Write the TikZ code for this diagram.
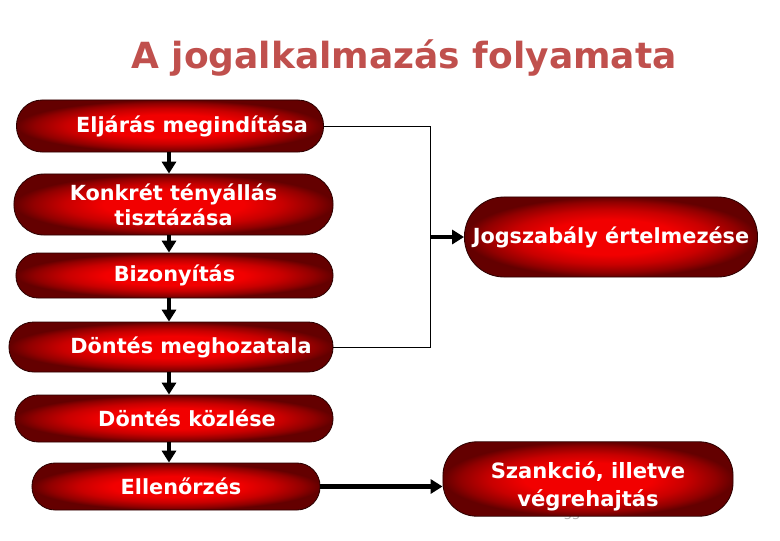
\documentclass[tikz,border=0pt]{standalone}
\usepackage{fontspec}
\setmainfont{DejaVu Sans}
\usepackage{tikz}
\usetikzlibrary{arrows.meta, calc}
\definecolor{titlered}{RGB}{192,80,77}
\definecolor{pillin}{RGB}{242,0,0}
\definecolor{pillmid}{RGB}{200,0,0}
\definecolor{pilldark}{RGB}{145,0,0}
\definecolor{pillout}{RGB}{100,0,0}
\definecolor{pilledge}{RGB}{45,0,0}
\pgfdeclareradialshading{pillglow}{\pgfpoint{0bp}{0bp}}{color(0bp)=(pillin);
  color(11bp)=(pillin); color(17bp)=(pillmid); color(22bp)=(pilldark);
  color(25bp)=(pillout); color(50bp)=(pillout)}
\tikzset{>={Triangle[width=10pt,length=8.5pt]}}

\begin{document}
\begin{tikzpicture}[x=0.025cm, y=-0.025cm,
  pill/.style={rectangle, draw=pilledge, line width=0.6pt, shading=pillglow,
    text=white, align=center,
    inner xsep=1pt, font=\bfseries\fontsize{14.8}{17.8}\selectfont},
  flow/.style={->, line width=2.9pt},
  link/.style={line width=0.7pt}]
  \useasboundingbox (0,0) rectangle (780,540);

  %title
  \node[text=titlered, anchor=base, font=\bfseries\fontsize{25.6}{30}\selectfont]
    (title) at (404,68) {A jogalkalmazás folyamata};

  %page number, mostly hidden
  \node[text=gray!60, font=\fontsize{9}{10}\selectfont] (pagenum) at (572,515) {33};

  %left column
  \node[pill, minimum width=7.675cm, minimum height=1.3cm, rounded corners=0.64cm]
    (elj) at (170,126) {\hspace*{1.1cm}Eljárás megindítása};
  \node[pill, minimum width=7.975cm, minimum height=1.525cm, rounded corners=0.75cm]
    (konk) at (173.5,204.5) {Konkrét tényállás\\tisztázása};
  \node[pill, minimum width=7.925cm, minimum height=1.125cm, rounded corners=0.55cm]
    (biz) at (174.5,275.5) {Bizonyítás};
  \node[pill, minimum width=8.1cm, minimum height=1.25cm, rounded corners=0.62cm]
    (dontm) at (171,347) {\hspace*{1.0cm}Döntés meghozatala};
  \node[pill, minimum width=7.95cm, minimum height=1.175cm, rounded corners=0.58cm]
    (dontk) at (174,418.5) {\hspace*{0.65cm}Döntés közlése};
  \node[pill, minimum width=7.2cm, minimum height=1.175cm, rounded corners=0.58cm]
    (ell) at (176,486.5) {\hspace*{0.25cm}Ellenőrzés};

  %right column
  \node[pill, minimum width=7.325cm, minimum height=2.0cm, rounded corners=0.99cm]
    (jog) at (611,237) {Jogszabály értelmezése};
  \node[pill, minimum width=7.25cm, minimum height=1.7cm, rounded corners=0.84cm,
    text height=43pt, font=\bfseries\fontsize{15}{20.6}\selectfont]
    (szank) at (588,479) {Szankció, illetve\\végrehajtás};

  %down arrows
  \coordinate (col) at (169,0);
  \draw[flow] (col |- elj.south) -- (col |- konk.north);
  \draw[flow] (col |- konk.south) -- (col |- biz.north);
  \draw[flow] (col |- biz.south) -- (col |- dontm.north);
  \draw[flow] (col |- dontm.south) -- (col |- dontk.north);
  \draw[flow] (col |- dontk.south) -- (col |- ell.north);

  %bracket to interpretation
  \coordinate (brk) at (430,128);
  \draw[link] (elj.east) -- (elj.east -| brk) -- (brk |- dontm.east) -- (dontm.east);
  \draw[flow] (brk |- jog.west) -- (jog.west);

  %sanction arrow
  \draw[flow, line width=3.4pt] (ell.east) -- (ell.east -| szank.west);
\end{tikzpicture}
\end{document}
